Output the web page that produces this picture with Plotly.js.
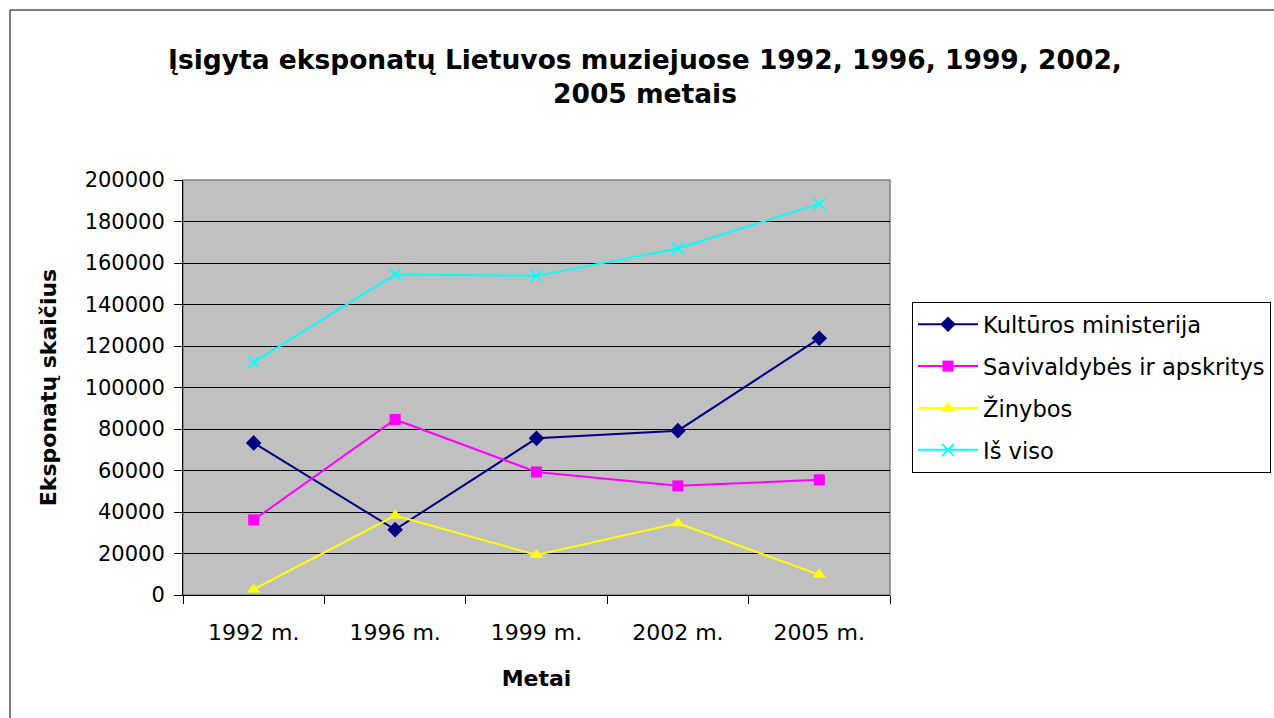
<!DOCTYPE html>
<html>
<head>
<meta charset="utf-8">
<script src="https://cdn.plot.ly/plotly-3.0.1.min.js"></script>
<style>html,body{margin:0;padding:0;background:#fff;}#chart{width:1274px;height:718px;}</style>
</head>
<body>
<div id="chart"></div>
<script>
const categories = ["1992 m.", "1996 m.", "1999 m.", "2002 m.", "2005 m."];
const kulturosMinisterija = [73300, 31500, 75500, 79200, 123700];
const savivaldybes = [36200, 84600, 59300, 52600, 55500];
const zinybos = [2700, 38300, 19300, 34600, 9700];
const isViso = [112200, 154500, 153800, 167000, 188500];
const seriesNames = ["Kultūros ministerija", "Savivaldybės ir apskritys", "Žinybos", "Iš viso"];

const FONT = "DejaVu Sans, Arial, sans-serif";

function tr(name, y, color, symbol, size, group) {
  return {
    type: "scatter", mode: "lines+markers", x: categories, y: y, name: name,
    legendgroup: group,
    line: {color: color, width: 2},
    marker: {color: color, symbol: symbol, size: size, line: {color: color, width: symbol.indexOf("x") === 0 ? 1.8 : 0}}
  };
}

const data = [
  tr(seriesNames[0], kulturosMinisterija, "#000080", "diamond", 12, "a"),
  tr(seriesNames[1], savivaldybes, "#FF00FF", "square", 11, "b"),
  tr(seriesNames[2], zinybos, "#FFFF00", "triangle-up", 12, "c"),
  tr(seriesNames[3], isViso, "#00FFFF", "x-thin-open", 12, "d")
];

const L = 183, R = 890, T = 180, B = 595, W = 1274, H = 718;
const pw = R - L, ph = B - T;

const layout = {
  width: W, height: H,
  margin: {l: L, r: W - R, t: T, b: H - B, pad: 0, autoexpand: false},
  paper_bgcolor: "#ffffff",
  plot_bgcolor: "#C0C0C0",
  font: {family: FONT, color: "#000"},
  title: {
    text: "<b>Įsigyta eksponatų Lietuvos muziejuose 1992, 1996, 1999, 2002,<br>2005 metais</b>",
    font: {family: FONT, size: 26.5, color: "#000"},
    x: 645 / W, xanchor: "center", y: 1 - 69 / H, yanchor: "middle"
  },
  xaxis: {
    type: "category", range: [-0.5, 4.5],
    tickson: "boundaries", ticks: "outside", ticklen: 8, tickcolor: "#000",
    showline: true, linecolor: "#000", linewidth: 1, mirror: false,
    showgrid: false, zeroline: false,
    ticklabelstandoff: 18,
    tickfont: {family: FONT, size: 22, color: "#000"},
    title: {text: "<b>Metai</b>", font: {family: FONT, size: 22, color: "#000"}, standoff: 26}
  },
  yaxis: {
    range: [0, 200000], dtick: 20000, tickformat: "d",
    ticks: "outside", ticklen: 8, tickcolor: "#000",
    showline: true, linecolor: "#000", linewidth: 1,
    showgrid: true, gridcolor: "#000", gridwidth: 1, zeroline: false,
    ticklabelstandoff: 5,
    tickfont: {family: FONT, size: 21, color: "#000"},
    title: {text: "<b>Eksponatų skaičius</b>", font: {family: FONT, size: 22, color: "#000"}, standoff: 21}
  },
  showlegend: true,
  legend: {
    x: (912 - L) / pw, xanchor: "left",
    y: (B - 302) / ph, yanchor: "top",
    bgcolor: "#fff", bordercolor: "#000", borderwidth: 1,
    font: {family: FONT, size: 22.6, color: "#000"},
    traceorder: "grouped", tracegroupgap: 9.5, itemwidth: 60
  },
  shapes: [
    {type: "rect", xref: "paper", yref: "paper",
     x0: 0, x1: 1, y0: 0, y1: 1, line: {color: "#808080", width: 1.5}, fillcolor: "rgba(0,0,0,0)", layer: "below"},
    {type: "rect", xref: "paper", yref: "paper",
     x0: (10 - L) / pw, x1: (1290 - L) / pw, y0: (B - 740) / ph, y1: (B - 10) / ph,
     line: {color: "#000", width: 1}, fillcolor: "rgba(0,0,0,0)", layer: "below"}
  ]
};

Plotly.newPlot("chart", data, layout, {displayModeBar: false, staticPlot: true});
</script>
</body>
</html>
